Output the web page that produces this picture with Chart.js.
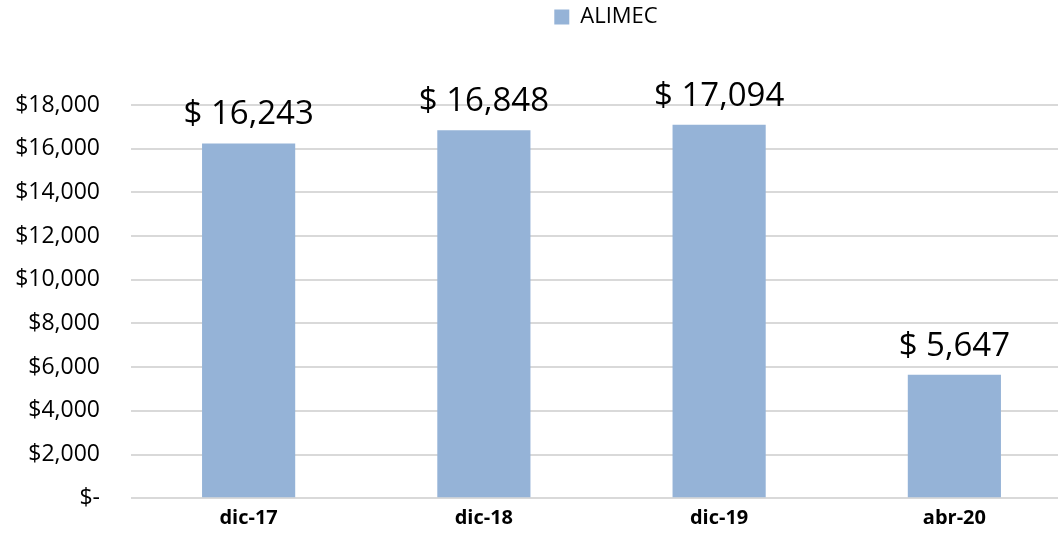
<!DOCTYPE html>
<html>
<head>
<meta charset="utf-8">
<script src="https://cdn.jsdelivr.net/npm/chart.js@4/dist/chart.umd.min.js"></script>
<style>
  html, body { margin: 0; padding: 0; background: #fff; overflow: hidden; }
  #wrap { width: 1072px; height: 543px; position: relative; }
</style>
</head>
<body>
<div id="wrap"><canvas id="chart"></canvas></div>
<script>
// ---- data ----
const categories = ['dic-17', 'dic-18', 'dic-19', 'abr-20'];
const alimecValues = [16243, 16848, 17094, 5647];
const yTicks = [0, 2000, 4000, 6000, 8000, 10000, 12000, 14000, 16000, 18000];

const BAR_COLOR = '#95b3d7';
const FONT = "'Open Sans', 'Liberation Sans', sans-serif";

function fmtMoney(v) {
    return v === 0 ? '$-' : '$' + v.toLocaleString('en-US');
}

// draws "$ 16,243" above each bar
const valueLabels = {
    id: 'valueLabels',
    afterDatasetsDraw(chart) {
        const ctx = chart.ctx;
        const meta = chart.getDatasetMeta(0);
        ctx.save();
        ctx.font = '33px ' + FONT;
        ctx.fillStyle = '#000';
        ctx.textAlign = 'center';
        ctx.textBaseline = 'bottom';
        meta.data.forEach((bar, i) => {
            ctx.fillText('$ ' + alimecValues[i].toLocaleString('en-US'), bar.x, bar.y - 12);
        });
        ctx.restore();
    }
};

// extra room under the legend, and nudge it right like the original
const legendSpace = {
    id: 'legendSpace',
    beforeInit(chart) {
        const fit = chart.legend.fit;
        chart.legend.fit = function () {
            fit.call(this);
            this.height += 67;
        };
    },
    afterLayout(chart) {
        const lg = chart.legend;
        const dx = 70;
        lg.left += dx;
        lg.right += dx;
        (lg.legendHitBoxes || []).forEach(b => { b.left += dx; });
    }
};

new Chart(document.getElementById('chart'), {
    type: 'bar',
    data: {
        labels: categories,
        datasets: [{
            label: 'ALIMEC',
            data: alimecValues,
            backgroundColor: BAR_COLOR,
            borderWidth: 0,
            barPercentage: 0.396,
            categoryPercentage: 1
        }]
    },
    options: {
        responsive: true,
        maintainAspectRatio: false,
        animation: false,
        layout: { padding: { top: 6, left: 0, right: 0, bottom: 0 } },
        scales: {
            x: {
                grid: { display: false },
                border: { display: false },
                ticks: { color: '#000', font: { family: FONT, size: 20, weight: 'bold' }, padding: 0 }
            },
            y: {
                min: 0,
                max: 18000,
                afterBuildTicks: axis => { axis.ticks = yTicks.map(v => ({ value: v })); },
                afterFit: axis => { axis.width = 131; },
                grid: { color: '#d9d9d9', lineWidth: 2, drawTicks: false },
                border: { display: false },
                ticks: {
                    color: '#000',
                    font: { family: FONT, size: 23 },
                    padding: 31,
                    callback: v => fmtMoney(v)
                }
            }
        },
        plugins: {
            legend: {
                display: true,
                position: 'top',
                labels: {
                    color: '#000',
                    font: { family: FONT, size: 22 },
                    boxWidth: 15,
                    boxHeight: 15,
                    padding: 0
                }
            },
            tooltip: { enabled: false }
        }
    },
    plugins: [valueLabels, legendSpace]
});
</script>
</body>
</html>
